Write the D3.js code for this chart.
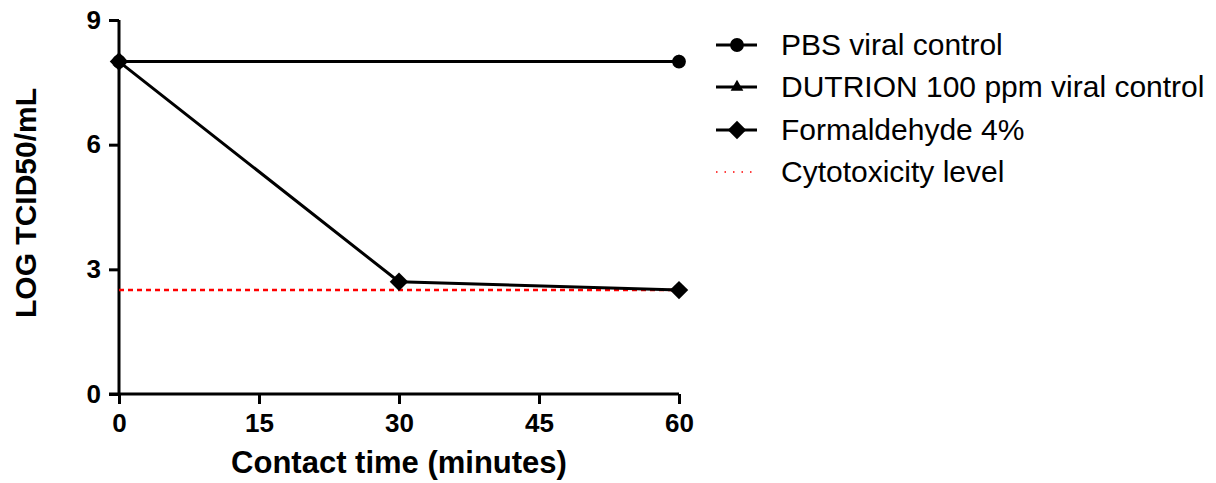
<!DOCTYPE html>
<html>
<head>
<meta charset="utf-8">
<script src="https://cdn.jsdelivr.net/npm/d3@7"></script>
<style>
body{margin:0;background:#fff;}
text{font-family:"Liberation Sans",Arial,sans-serif;}
</style>
</head>
<body>
<div id="chart"></div>
<script>
var pbs = [[0, 8], [60, 8]];
var dutrion = [[0, 8], [60, 8]];
var formaldehyde = [[0, 8], [30, 2.7], [60, 2.5]];
var cytotoxicity = 2.5;
var xTicks = [0, 15, 30, 45, 60];
var yTicks = [0, 3, 6, 9];
var legendLabels = ["PBS viral control", "DUTRION 100 ppm viral control", "Formaldehyde 4%", "Cytotoxicity level"];

var svg = d3.select("#chart").append("svg").attr("width", 1216).attr("height", 483);

var x = d3.scaleLinear().domain([0, 60]).range([119, 679]);
var y = d3.scaleLinear().domain([0, 9]).range([394, 20]);

// axes
var xAxis = svg.append("g").attr("transform", "translate(0," + y(0) + ")")
    .call(d3.axisBottom(x).tickValues(xTicks).tickSize(10).tickPadding(10).tickSizeOuter(0));
var yAxis = svg.append("g").attr("transform", "translate(" + x(0) + ",0)")
    .call(d3.axisLeft(y).tickValues(yTicks).tickSize(10).tickPadding(8).tickSizeOuter(0));
[xAxis, yAxis].forEach(function(a){
    a.select(".domain").attr("stroke", "#000").attr("stroke-width", 3);
    a.selectAll(".tick line").attr("stroke", "#000").attr("stroke-width", 3);
    a.selectAll(".tick text").attr("fill", "#000").style("font-size", "26px").style("font-weight", "bold");
});
xAxis.select(".domain").attr("d", "M" + (x(0) - 10) + ",0H" + x(60));
yAxis.select(".domain").attr("d", "M0," + y(0) + "V" + y(9));

svg.append("text").attr("x", x(30)).attr("y", 473).attr("text-anchor", "middle")
    .style("font-size", "31px").style("font-weight", "bold").text("Contact time (minutes)");
svg.append("text").attr("transform", "translate(36,203) rotate(-90)").attr("text-anchor", "middle")
    .style("font-size", "30px").style("font-weight", "bold").text("LOG TCID50/mL");

// cytotoxicity level
svg.append("line").attr("x1", x(0)).attr("x2", x(60)).attr("y1", y(cytotoxicity)).attr("y2", y(cytotoxicity))
    .attr("stroke", "#ff0000").attr("stroke-width", 2.5).attr("stroke-dasharray", "5,4");

var line = d3.line().x(d => x(d[0])).y(d => y(d[1]));
[dutrion, pbs, formaldehyde].forEach(function(s){
    svg.append("path").datum(s).attr("d", line).attr("fill", "none").attr("stroke", "#000").attr("stroke-width", 3);
});

var sym = {
    tri: d3.symbol().type(d3.symbolTriangle).size(70),
    circ: d3.symbol().type(d3.symbolCircle).size(150),
    diam: d3.symbol().type(d3.symbolSquare).size(170)
};
function marks(s, p, rot){
    svg.selectAll(null).data(s).enter().append("path")
        .attr("d", p)
        .attr("transform", d => "translate(" + x(d[0]) + "," + y(d[1]) + ")" + (rot ? " rotate(45)" : ""))
        .attr("fill", "#000");
}
marks(dutrion, sym.tri);
marks(formaldehyde, sym.diam, true);
marks(pbs, sym.circ);

// legend
var lg = svg.append("g");
var legendY = [45, 87, 130, 172];
var legendSym = [sym.circ, sym.tri, sym.diam, null];
legendLabels.forEach(function(lbl, i){
    var gy = legendY[i];
    if (i < 3) {
        lg.append("line").attr("x1", 716).attr("x2", 757).attr("y1", gy).attr("y2", gy)
            .attr("stroke", "#000").attr("stroke-width", 3);
        lg.append("path").attr("d", legendSym[i])
            .attr("transform", "translate(737," + gy + ")" + (i == 2 ? " rotate(45)" : ""))
            .attr("fill", "#000");
    } else {
        lg.append("line").attr("x1", 716).attr("x2", 757).attr("y1", gy).attr("y2", gy)
            .attr("stroke", "#ff0000").attr("stroke-width", 1.5).attr("stroke-dasharray", "1.5,7");
    }
    lg.append("text").attr("x", 781).attr("y", gy + 10).style("font-size", "30px").attr("fill", "#000").text(lbl);
});
</script>
</body>
</html>
